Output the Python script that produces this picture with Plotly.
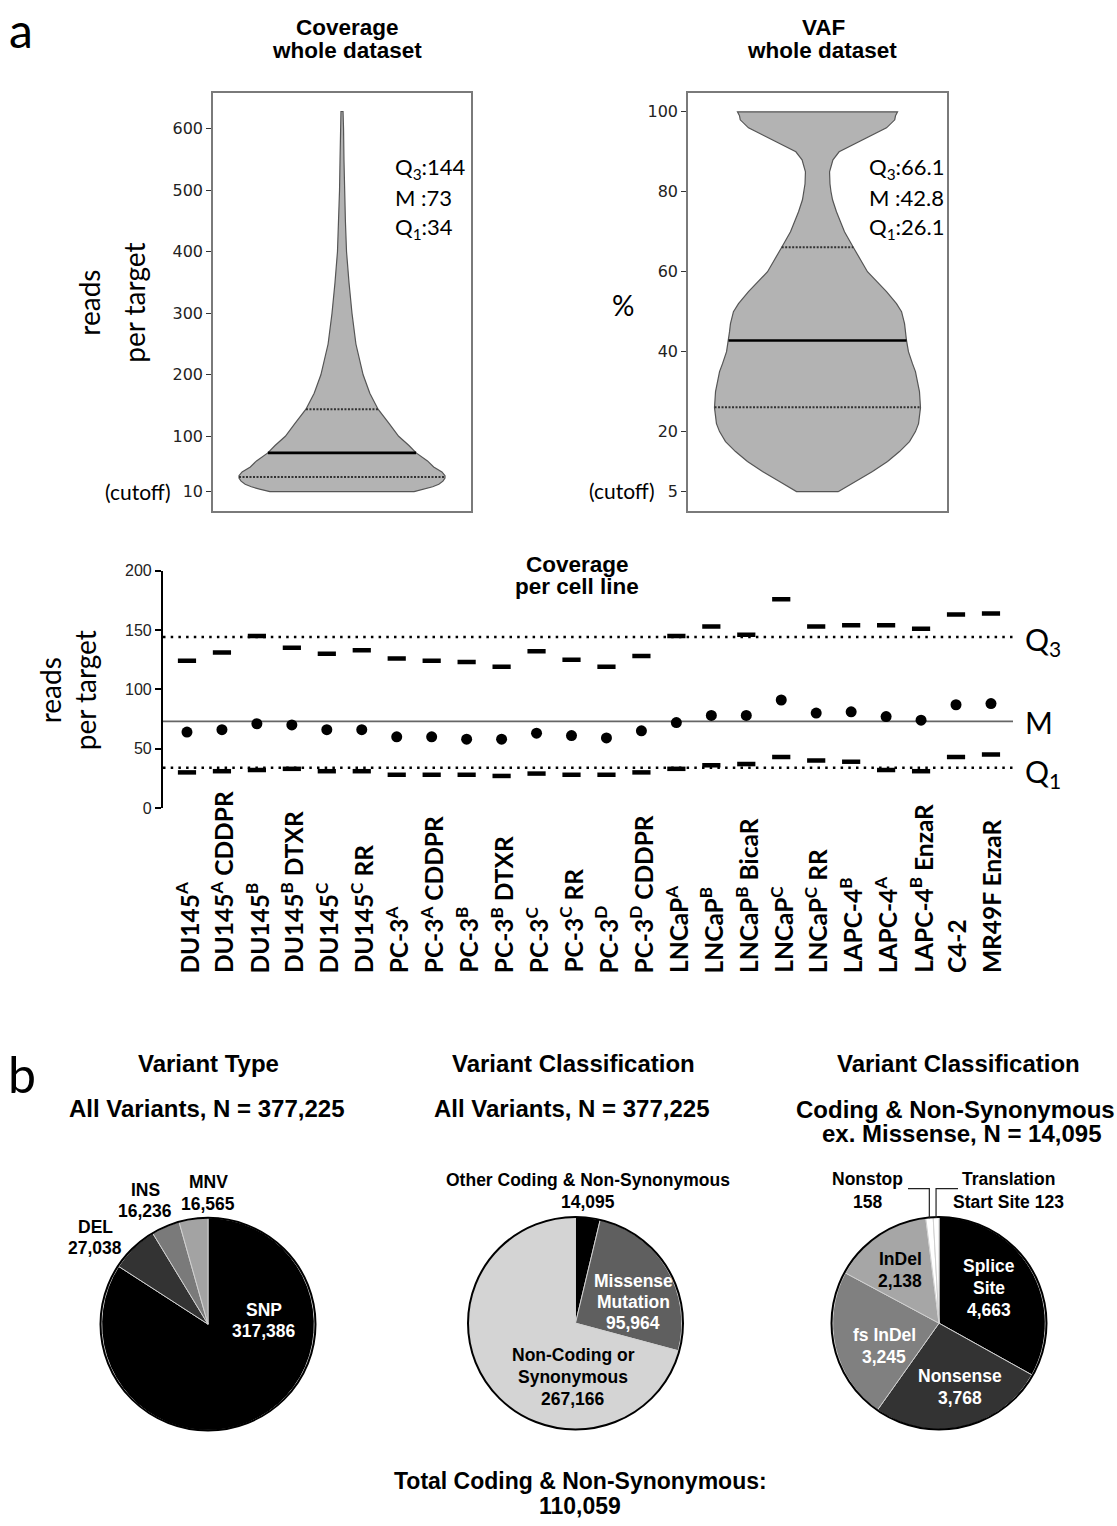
import plotly.graph_objects as go
import numpy as np

W, H = 1117, 1526

# ---------------- data ----------------
# Coverage, whole dataset (violin outline: level -> relative density)
cov_levels = [10, 14, 18, 22, 27, 32, 36, 42, 50, 60, 73, 85, 100, 120, 144, 170, 200, 250, 300, 350, 400, 450, 500, 550, 600, 628]
cov_density = [0.70, 0.80, 0.88, 0.94, 0.98, 1.00, 1.00, 0.97, 0.89, 0.83, 0.72, 0.65, 0.55, 0.46, 0.35, 0.27, 0.205, 0.135, 0.097, 0.068, 0.044, 0.033, 0.024, 0.019, 0.015, 0.010]
cov_q1, cov_med, cov_q3 = 34, 73, 144

# VAF, whole dataset
vaf_levels = [5, 7.5, 10, 12.5, 15, 17.5, 20, 22, 26, 30, 35, 37, 40, 42.8, 45, 47, 50, 52, 55, 60, 66, 70, 75, 78, 80, 82, 85, 88, 90, 92, 94, 96, 98, 99, 100]
vaf_density = [0.204, 0.369, 0.534, 0.680, 0.796, 0.893, 0.951, 0.981, 1.0, 0.990, 0.951, 0.922, 0.883, 0.864, 0.854, 0.845, 0.816, 0.767, 0.670, 0.485, 0.350, 0.262, 0.184, 0.146, 0.131, 0.121, 0.117, 0.150, 0.21, 0.36, 0.52, 0.67, 0.75, 0.757, 0.777]
vaf_q1, vaf_med, vaf_q3 = 26.1, 42.8, 66.1

# Coverage per cell line
cell_lines = ["DU145<sup>A</sup>", "DU145<sup>A</sup> CDDPR", "DU145<sup>B</sup>", "DU145<sup>B</sup> DTXR",
              "DU145<sup>C</sup>", "DU145<sup>C</sup> RR", "PC-3<sup>A</sup>", "PC-3<sup>A</sup> CDDPR",
              "PC-3<sup>B</sup>", "PC-3<sup>B</sup> DTXR", "PC-3<sup>C</sup>", "PC-3<sup>C</sup> RR",
              "PC-3<sup>D</sup>", "PC-3<sup>D</sup> CDDPR", "LNCaP<sup>A</sup>", "LNCaP<sup>B</sup>",
              "LNCaP<sup>B</sup> BicaR", "LNCaP<sup>C</sup>", "LNCaP<sup>C</sup> RR", "LAPC-4<sup>B</sup>",
              "LAPC-4<sup>A</sup>", "LAPC-4<sup>B</sup> EnzaR", "C4-2", "MR49F EnzaR"]
cell_q3 = [124, 131, 145, 135, 130, 133, 126, 124, 123, 119, 132, 125, 119, 128, 145, 153, 146, 176, 153, 154, 154, 151, 163, 164]
cell_median = [64, 66, 71, 70, 66, 66, 60, 60, 58, 58, 63, 61, 59, 65, 72, 78, 78, 91, 80, 81, 77, 74, 87, 88]
cell_q1 = [30, 31, 32, 33, 31, 31, 28, 28, 28, 27, 29, 28, 28, 30, 33, 36, 37, 43, 40, 39, 32, 31, 43, 45]

# Pie charts
type_labels = ["SNP", "DEL", "INS", "MNV"]
type_counts = [317386, 27038, 16236, 16565]
type_colors = ["#000000", "#333333", "#7a7a7a", "#a3a3a3"]

class_labels = ["Other Coding & Non-Synonymous", "Missense<br>Mutation", "Non-Coding or<br>Synonymous"]
class_counts = [14095, 95964, 267166]
class_colors = ["#000000", "#5f5f5f", "#d4d4d4"]

cns_labels = ["Splice<br>Site", "Nonsense", "fs InDel", "InDel", "Nonstop", "Translation<br>Start Site"]
cns_counts = [4663, 3768, 3245, 2138, 158, 123]
cns_colors = ["#000000", "#333333", "#808080", "#a6a6a6", "#ffffff", "#ffffff"]

# ---------------- helpers ----------------
def px(x):
    return x / W

def py(y):
    return 1 - y / H

fig = go.Figure()

ARIAL = "Liberation Sans"
CAL = "Lato"
TICKF = "DejaVu Sans"


def txt(x, y, s, size, family=ARIAL, color="black", bold=False, xanchor="center",
        yanchor="middle", angle=0, xref="paper"):
    t = f"<b>{s}</b>" if bold else s
    fig.add_annotation(x=px(x) if xref == "paper" else x, y=py(y), text=t, showarrow=False,
                       xref=xref, yref="paper", xanchor=xanchor, yanchor=yanchor,
                       textangle=angle, font=dict(size=size, family=family, color=color))


def lines(x, y0, dy, items, size, family=ARIAL, color="black", bold=True, xanchor="center"):
    for i, s in enumerate(items):
        txt(x, y0 + i * dy, s, size, family=family, color=color, bold=bold, xanchor=xanchor)


# ---------------- violins ----------------
VSCALE = 1.03


def add_violin(levels, dens, q1, med, q3, xa, ya):
    xs = [d * VSCALE for d in dens] + [-d * VSCALE for d in dens[::-1]]
    ys = list(levels) + list(levels[::-1])
    fig.add_trace(go.Scatter(x=xs + [xs[0]], y=ys + [ys[0]], mode="lines", fill="toself",
                             fillcolor="#b3b3b3", line=dict(color="#555555", width=1.2),
                             xaxis=xa, yaxis=ya, showlegend=False, hoverinfo="skip"))
    for q, dash, wdt, col in [(q1, "2px,1.5px", 2, "#333333"), (med, "solid", 2.6, "#000000"),
                              (q3, "2px,1.5px", 2, "#333333")]:
        w = float(np.interp(q, levels, dens)) * VSCALE
        fig.add_trace(go.Scatter(x=[-w, w], y=[q, q], mode="lines",
                                 line=dict(color=col, width=wdt, dash=dash),
                                 xaxis=xa, yaxis=ya, showlegend=False, hoverinfo="skip"))


add_violin(cov_levels, cov_density, cov_q1, cov_med, cov_q3, "x", "y")
add_violin(vaf_levels, vaf_density, vaf_q1, vaf_med, vaf_q3, "x2", "y2")

box_axis = dict(showline=True, linecolor="#7a7a7a", linewidth=1.5, mirror=True, zeroline=False,
                showgrid=False)
tick_font = dict(family=TICKF, size=16, color="#222")
fig.update_layout(
    xaxis=dict(domain=[px(213), px(471)], range=[-1.29, 1.29], showticklabels=False, ticks="",
               anchor="y", **box_axis),
    yaxis=dict(domain=[py(509), py(86)], range=[-22, 658], tickvals=[10, 100, 200, 300, 400, 500, 600],
               ticks="outside", ticklen=5, tickcolor="#333", tickfont=tick_font,
               anchor="x", **box_axis),
    xaxis2=dict(domain=[px(688), px(947)], range=[-1.295, 1.295], showticklabels=False, ticks="",
                anchor="y2", **box_axis),
    yaxis2=dict(domain=[py(509), py(86)], range=[0.05, 104.7], tickvals=[5, 20, 40, 60, 80, 100],
                ticks="outside", ticklen=5, tickcolor="#333", tickfont=tick_font,
                anchor="x2", **box_axis),
)

# ---------------- per cell line ----------------
n = len(cell_lines)
xi = list(range(n))
fig.add_trace(go.Scatter(x=xi, y=cell_q3, mode="markers", xaxis="x3", yaxis="y3",
                         marker=dict(symbol="line-ew", size=13, line=dict(width=4.5, color="black")),
                         showlegend=False, hoverinfo="skip"))
fig.add_trace(go.Scatter(x=xi, y=cell_q1, mode="markers", xaxis="x3", yaxis="y3",
                         marker=dict(symbol="line-ew", size=13, line=dict(width=4.5, color="black")),
                         showlegend=False, hoverinfo="skip"))
fig.add_trace(go.Scatter(x=xi, y=cell_median, mode="markers", xaxis="x3", yaxis="y3",
                         marker=dict(symbol="circle", size=11, color="black"),
                         showlegend=False, hoverinfo="skip"))

fig.update_layout(
    xaxis3=dict(domain=[px(163), px(1013)], range=[-0.686, 23.63], visible=False, anchor="y3"),
    yaxis3=dict(domain=[py(809), py(569)], range=[0, 200], tickvals=[0, 50, 100, 150, 200],
                showline=True, linecolor="black", linewidth=2.2, ticks="outside", ticklen=6,
                tickwidth=2, tickcolor="black", showgrid=False, zeroline=False,
                tickfont=dict(family=ARIAL, size=16, color="#222"), anchor="x3"),
)

for val, dash, col, wdt in [(cov_q3, "2.5px,5.2px", "black", 2.5), (cov_med, "solid", "#666666", 1.6),
                            (cov_q1, "2.5px,5.2px", "black", 2.5)]:
    fig.add_shape(type="line", xref="x3 domain", yref="y3", x0=0, x1=1, y0=val, y1=val,
                  line=dict(color=col, width=wdt, dash=dash), layer="below")

for i, name in enumerate(cell_lines):
    fig.add_annotation(x=i, y=py(978), xref="x3", yref="paper", text=f"<b>{name}</b>",
                       showarrow=False, textangle=-90, xanchor="center", yanchor="bottom",
                       font=dict(family=CAL, size=24.5, color="black"))

# ---------------- pies ----------------
PIE_R = 107.5
pie_centers = [(208, 1331), (575.5, 1330), (939, 1330)]


def add_pie(labels, counts, colors, center):
    cx, cy = center
    fig.add_trace(go.Pie(labels=[l.replace("<br>", " ") for l in labels], values=counts,
                         marker=dict(colors=colors, line=dict(color="#d0d0d0", width=1)),
                         sort=False, direction="clockwise", rotation=0, textinfo="none",
                         hoverinfo="skip", showlegend=False,
                         domain=dict(x=[px(cx - PIE_R), px(cx + PIE_R)],
                                     y=[py(cy + PIE_R), py(cy - PIE_R)])))
    fig.add_shape(type="circle", xref="paper", yref="paper",
                  x0=px(cx - PIE_R), x1=px(cx + PIE_R), y0=py(cy + PIE_R), y1=py(cy - PIE_R),
                  line=dict(color="black", width=2))


add_pie(type_labels, type_counts, type_colors, pie_centers[0])
add_pie(class_labels, class_counts, class_colors, pie_centers[1])
add_pie(cns_labels, cns_counts, cns_colors, pie_centers[2])


def fmt(v):
    return f"{v:,}"

PF = 17.5
# pie 1 labels
lines(264, 1317, 21, [type_labels[0], fmt(type_counts[0])], PF, color="white")
lines(95, 1233, 21, [type_labels[1], fmt(type_counts[1])], PF)
lines(145, 1195, 22, [type_labels[2], fmt(type_counts[2])], PF)
lines(208, 1187, 22, [type_labels[3], fmt(type_counts[3])], PF)
# pie 2 labels
lines(588, 1185, 22, [class_labels[0], fmt(class_counts[0])], PF)
lines(633, 1287, 21.5, class_labels[1].split("<br>") + [fmt(class_counts[1])], PF, color="white")
lines(573, 1362, 22.5, class_labels[2].split("<br>") + [fmt(class_counts[2])], PF)
# pie 3 labels
lines(989, 1272, 22.5, cns_labels[0].split("<br>") + [fmt(cns_counts[0])], PF, color="white")
lines(960, 1383, 23, [cns_labels[1], fmt(cns_counts[1])], PF, color="white")
lines(884, 1342, 22, [cns_labels[2], fmt(cns_counts[2])], PF, color="white")
lines(900, 1265, 22, [cns_labels[3], fmt(cns_counts[3])], PF)
lines(867, 1184, 23, [cns_labels[4], fmt(cns_counts[4])], PF)
lines(1008, 1184, 23, [cns_labels[5].split("<br>")[0], cns_labels[5].split("<br>")[1] + " " + fmt(cns_counts[5])], PF)

# leader lines for the two tiny slices, at their mid angles
tot = sum(cns_counts)
cum = np.cumsum([0] + cns_counts)
cx3, cy3 = pie_centers[2]
for k, xend in [(4, 908), (5, 958)]:
    mid = (cum[k] + cum[k + 1]) / 2 / tot * 2 * np.pi
    lx = cx3 + PIE_R * np.sin(mid)
    ly = cy3 - PIE_R * np.cos(mid) + 1
    fig.add_shape(type="path", xref="paper", yref="paper",
                  path=f"M {px(xend)},{py(1194)} L {px(lx)},{py(1194)} L {px(lx)},{py(ly)}",
                  line=dict(color="#222", width=1.2))

# pie titles
TF = 24
txt(208, 1067, "Variant Type", TF, bold=True)
txt(207, 1113, "All Variants, N = " + fmt(sum(type_counts)), TF, bold=True)
txt(573, 1067, "Variant Classification", TF, bold=True)
txt(572, 1113, "All Variants, N = " + fmt(sum(class_counts)), TF, bold=True)
txt(958, 1067, "Variant Classification", TF, bold=True)
txt(955, 1114, "Coding & Non-Synonymous", TF, bold=True)
txt(962, 1138, "ex. Missense, N = " + fmt(sum(cns_counts)), TF, bold=True)
txt(580, 1490, "Total Coding & Non-Synonymous:", 23, bold=True)
txt(580, 1515, fmt(class_counts[0] + class_counts[1]), 23, bold=True)

# ---------------- panel a texts ----------------
AT = 22.5
txt(347, 20, "Coverage", AT, bold=True)
txt(347, 43, "whole dataset", AT, bold=True)
txt(823, 20, "VAF", AT, bold=True)
txt(822, 43, "whole dataset", AT, bold=True)
txt(577, 563, "Coverage", AT, bold=True)
txt(577, 585, "per cell line", AT, bold=True)

txt(89, 298, "reads", 28, family=CAL, angle=-90)
txt(134, 298, "per target", 28, family=CAL, angle=-90)
txt(623, 300, "%", 28, family=CAL)
txt(138, 489, "(cutoff)", 21, family=CAL)
txt(622, 488, "(cutoff)", 21, family=CAL)

for i, s in enumerate([f"Q<sub>3</sub>:{cov_q3}", f"M :{cov_med}", f"Q<sub>1</sub>:{cov_q1}"]):
    txt(393, 162 + 30 * i, s, 22, family=CAL, xanchor="left")
for i, s in enumerate([f"Q<sub>3</sub>:{vaf_q3}", f"M :{vaf_med}", f"Q<sub>1</sub>:{vaf_q1}"]):
    txt(867, 162 + 30 * i, s, 22, family=CAL, xanchor="left")

txt(50, 690, "reads", 28, family=CAL, angle=-90)
txt(85, 690, "per target", 28, family=CAL, angle=-90)
txt(1023, 640, "Q<sub>3</sub>", 30, family=CAL, xanchor="left")
txt(1023, 722, "M", 30, family=CAL, xanchor="left")
txt(1023, 774, "Q<sub>1</sub>", 30, family=CAL, xanchor="left")

txt(21, 22, "a", 48, family=CAL)
txt(22, 1078, "b", 50, family=CAL)

fig.update_layout(width=W, height=H, margin=dict(l=0, r=0, t=0, b=0),
                  paper_bgcolor="white", plot_bgcolor="white", showlegend=False)

fig.write_html("out.html")
